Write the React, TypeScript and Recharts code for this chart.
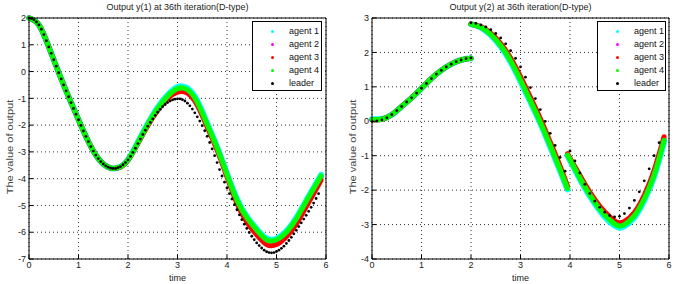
import React from 'react';
import { ComposedChart, Line, XAxis, YAxis, CartesianGrid } from 'recharts';

// two MATLAB-style subplots: y(1) and y(2) outputs, 4 agents vs leader

const FONT = '"Liberation Sans", Arial, Helvetica, sans-serif';

const X_TICKS = [0, 1, 2, 3, 4, 5, 6];
const Y1_TICKS = [-7, -6, -5, -4, -3, -2, -1, 0, 1, 2];
const Y2_TICKS = [-4, -3, -2, -1, 0, 1, 2, 3];

const TITLE_1 = 'Output y(1) at 36th iteration(D-type)';
const TITLE_2 = 'Output y(2) at 36th iteration(D-type)';
const X_LABEL = 'time';
const Y_LABEL = 'The value of output';

const LEGEND_NAMES = ['agent 1', 'agent 2', 'agent 3', 'agent 4', 'leader'];
const LEGEND_COLORS = ['#00ffff', '#ff00ff', '#ff0000', '#00ff00', '#000000'];

// ---- y(1) ----
const Y1_LEADER_T = [
  0, 0.05, 0.1, 0.15, 0.2, 0.25, 0.3, 0.35, 0.4, 0.45, 0.5, 0.55, 0.6, 0.65, 0.7, 0.75, 0.8, 0.85, 0.9, 0.95,
  1, 1.05, 1.1, 1.15, 1.2, 1.25, 1.3, 1.35, 1.4, 1.45, 1.5, 1.55, 1.6, 1.65, 1.7, 1.75, 1.8, 1.85, 1.9, 1.95,
  2, 2.05, 2.1, 2.15, 2.2, 2.25, 2.3, 2.35, 2.4, 2.45, 2.5, 2.55, 2.6, 2.65, 2.7, 2.75, 2.8, 2.85, 2.9, 2.95,
  3, 3.05, 3.1, 3.15, 3.2, 3.25, 3.3, 3.35, 3.4, 3.45, 3.5, 3.55, 3.6, 3.65, 3.7, 3.75, 3.8, 3.85, 3.9, 3.95,
  4, 4.05, 4.1, 4.15, 4.2, 4.25, 4.3, 4.35, 4.4, 4.45, 4.5, 4.55, 4.6, 4.65, 4.7, 4.75, 4.8, 4.85, 4.9, 4.95,
  5, 5.05, 5.1, 5.15, 5.2, 5.25, 5.3, 5.35, 5.4, 5.45, 5.5, 5.55, 5.6, 5.65, 5.7, 5.75, 5.8, 5.85,
];
const Y1_LEADER = [
  2.0, 1.98, 1.93, 1.85, 1.74, 1.58, 1.38, 1.15, 0.92, 0.68, 0.44, 0.2, -0.04, -0.27, -0.5, -0.72, -0.94, -1.16, -1.38, -1.59,
  -1.8, -2.01, -2.22, -2.42, -2.62, -2.8, -2.97, -3.12, -3.25, -3.36, -3.45, -3.52, -3.57, -3.61, -3.62, -3.62, -3.59, -3.55, -3.48, -3.4,
  -3.3, -3.17, -3.02, -2.86, -2.69, -2.52, -2.35, -2.19, -2.04, -1.9, -1.77, -1.64, -1.52, -1.41, -1.31, -1.23, -1.16, -1.1, -1.06, -1.03,
  -1.02, -1.02, -1.05, -1.1, -1.18, -1.28, -1.4, -1.54, -1.69, -1.85, -2.02, -2.21, -2.42, -2.65, -2.89, -3.14, -3.4, -3.66, -3.9, -4.13,
  -4.35, -4.56, -4.76, -4.97, -5.16, -5.35, -5.53, -5.7, -5.86, -6.01, -6.15, -6.28, -6.4, -6.5, -6.59, -6.67, -6.73, -6.76, -6.77, -6.76,
  -6.72, -6.67, -6.6, -6.52, -6.42, -6.31, -6.19, -6.06, -5.93, -5.79, -5.65, -5.51, -5.37, -5.22, -5.07, -4.91, -4.74, -4.56,
];
const Y1_AGENT_T = [
  0, 0.2, 0.4, 0.6, 0.8, 1, 1.2, 1.4, 1.6, 1.8, 2, 2.2, 2.4, 2.6, 2.8, 3, 3.2, 3.4, 3.6, 3.8,
  4, 4.2, 4.4, 4.6, 4.8, 5, 5.2, 5.4, 5.6, 5.8, 5.9,
];
const Y1_AGENT1 = [
  2.0, 1.74, 0.92, -0.04, -0.94, -1.8, -2.62, -3.25, -3.57, -3.59, -3.29, -2.64, -1.95, -1.34, -0.88, -0.58, -0.62, -1.1, -1.94, -2.82,
  -3.82, -4.76, -5.42, -5.88, -6.24, -6.24, -5.96, -5.46, -4.82, -4.18, -3.86,
];
const Y1_AGENT2 = [
  2.0, 1.74, 0.92, -0.04, -0.94, -1.8, -2.62, -3.25, -3.57, -3.59, -3.3, -2.67, -2.0, -1.41, -0.96, -0.69, -0.73, -1.19, -2.01, -2.88,
  -3.88, -4.84, -5.5, -5.98, -6.34, -6.34, -6.06, -5.56, -4.91, -4.28, -3.95,
];
const Y1_AGENT3 = [
  2.0, 1.74, 0.92, -0.04, -0.94, -1.8, -2.62, -3.25, -3.57, -3.6, -3.31, -2.68, -2.02, -1.45, -1.01, -0.77, -0.81, -1.26, -2.07, -2.93,
  -3.93, -4.92, -5.62, -6.1, -6.46, -6.46, -6.17, -5.7, -5.05, -4.4, -4.05,
];
const Y1_AGENT4 = [
  2.0, 1.74, 0.92, -0.04, -0.94, -1.8, -2.62, -3.25, -3.57, -3.59, -3.3, -2.66, -1.98, -1.38, -0.92, -0.64, -0.68, -1.15, -1.98, -2.85,
  -3.85, -4.8, -5.45, -5.92, -6.28, -6.28, -6.0, -5.5, -4.85, -4.22, -3.9,
];

// ---- y(2) ---- (jumps at t=2 and t=4; null breaks the agent lines)
const Y2_LEADER_T = [
  0, 0.1, 0.2, 0.3, 0.4, 0.5, 0.6, 0.7, 0.8, 0.9, 1, 1.1, 1.2, 1.3, 1.4, 1.5, 1.6, 1.7, 1.8, 1.9, 2,
  2, 2.1, 2.2, 2.3, 2.4, 2.5, 2.6, 2.7, 2.8, 2.9, 3, 3.1, 3.2, 3.3, 3.4, 3.5, 3.6, 3.7, 3.8, 3.9,
  4, 4.1, 4.2, 4.3, 4.4, 4.5, 4.6, 4.7, 4.8, 4.9, 5, 5.1, 5.2, 5.3, 5.4, 5.5, 5.6, 5.7, 5.8,
];
const Y2_LEADER = [
  0.0, 0.01, 0.04, 0.1, 0.19, 0.31, 0.43, 0.56, 0.68, 0.82, 0.96, 1.1, 1.24, 1.37, 1.48, 1.58, 1.66, 1.73, 1.78, 1.82, 1.84,
  2.86, 2.84, 2.8, 2.74, 2.66, 2.55, 2.42, 2.25, 2.05, 1.83, 1.58, 1.28, 0.98, 0.66, 0.34, 0.0, -0.35, -0.7, -1.05, -1.45,
  -0.86, -1.15, -1.5, -1.83, -2.1, -2.32, -2.5, -2.64, -2.74, -2.78, -2.76, -2.68, -2.52, -2.3, -2.05, -1.73, -1.38, -1.0, -0.62,
];
const Y2_AGENT_T = [
  0, 0.2, 0.4, 0.6, 0.8, 1, 1.2, 1.4, 1.6, 1.8, 2,
  2,
  2, 2.2, 2.4, 2.6, 2.8, 3, 3.2, 3.4, 3.6, 3.8, 3.95,
  3.95,
  3.95, 4.1, 4.3, 4.5, 4.7, 4.9, 5, 5.1, 5.3, 5.5, 5.7, 5.9,
];
const Y2_AGENT1 = [
  0.06, 0.07, 0.19, 0.43, 0.68, 0.96, 1.24, 1.48, 1.66, 1.78, 1.83,
  null,
  2.82, 2.72, 2.5, 2.17, 1.72, 1.16, 0.56, -0.06, -0.74, -1.44, -1.98,
  null,
  -1.0, -1.41, -1.94, -2.39, -2.77, -3.03, -3.09, -3.05, -2.79, -2.3, -1.6, -0.6,
];
const Y2_AGENT2 = [
  0.05, 0.06, 0.19, 0.43, 0.68, 0.96, 1.24, 1.48, 1.66, 1.78, 1.83,
  null,
  2.82, 2.73, 2.53, 2.21, 1.78, 1.22, 0.62, 0.0, -0.68, -1.38, -1.93,
  null,
  -0.97, -1.36, -1.88, -2.33, -2.7, -2.96, -3.02, -2.98, -2.72, -2.22, -1.52, -0.52,
];
const Y2_AGENT3 = [
  0.04, 0.06, 0.19, 0.43, 0.68, 0.96, 1.24, 1.48, 1.66, 1.78, 1.83,
  null,
  2.83, 2.75, 2.56, 2.26, 1.84, 1.3, 0.7, 0.08, -0.6, -1.3, -1.88,
  null,
  -0.94, -1.32, -1.82, -2.27, -2.63, -2.89, -2.95, -2.91, -2.65, -2.15, -1.42, -0.45,
];
const Y2_AGENT4 = [
  0.05, 0.06, 0.19, 0.43, 0.68, 0.96, 1.24, 1.48, 1.66, 1.78, 1.83,
  null,
  2.82, 2.73, 2.52, 2.2, 1.76, 1.2, 0.6, -0.02, -0.7, -1.4, -1.95,
  null,
  -0.98, -1.38, -1.9, -2.35, -2.72, -2.98, -3.04, -3.0, -2.74, -2.25, -1.55, -0.55,
];

const zip = (ts: number[], vs: (number | null)[]) => ts.map((t, i) => ({ t, v: vs[i] }));

const W = 340;
const H = 284;
const TOP = 17;
const BOTTOM = 5;
const X_AXIS_H = 20;

interface PanelProps {
  left: number;
  title: string;
  yDomain: [number, number];
  yTicks: number[];
  yAxisWidth: number;
  rightMargin: number;
  agentT: number[];
  agents: (number | null)[][];
  leaderT: number[];
  leader: number[];
  legendLeft: number;
  legendWidth: number;
  yLabelX: number;
}

function Legend({ left, width }: { left: number; width: number }) {
  return (
    <div
      style={{
        position: 'absolute', left, top: 21, width, height: 70, boxSizing: 'border-box',
        border: '1px solid #000', background: '#fff', fontFamily: FONT, fontSize: 9, color: '#111',
      }}
    >
      {LEGEND_NAMES.map((name, i) => (
        <div key={name} style={{ position: 'absolute', left: 0, top: 3 + i * 13, width: '100%', height: 13, lineHeight: '13px' }}>
          <span
            style={{
              position: 'absolute', left: 18, top: 5, width: 3, height: 3, borderRadius: 2,
              background: LEGEND_COLORS[i],
            }}
          />
          <span style={{ position: 'absolute', left: 36 }}>{name}</span>
        </div>
      ))}
    </div>
  );
}

function Panel(p: PanelProps) {
  const plotLeft = p.yAxisWidth;
  const plotRight = W - p.rightMargin - 1;
  const plotW = plotRight - plotLeft;
  const tickStyle = { fontSize: 9, fill: '#222', fontFamily: FONT };
  const agentColors = LEGEND_COLORS.slice(0, 4);
  const agentWidths = [6, 5, 5, 5];

  return (
    <div style={{ position: 'absolute', left: p.left, top: 0, width: W, height: H }}>
      <ComposedChart width={W} height={H} margin={{ top: TOP, right: p.rightMargin, bottom: BOTTOM, left: 0 }}>
        <CartesianGrid xAxisId="b" yAxisId="l" stroke="#000" strokeOpacity={0.8} strokeDasharray="1 3" />
        <XAxis
          xAxisId="b" type="number" dataKey="t" domain={[0, 6]} ticks={X_TICKS} height={X_AXIS_H}
          tickSize={-4} tickMargin={7} tick={tickStyle} stroke="#000"
        />
        <XAxis
          xAxisId="top" orientation="top" type="number" dataKey="t" domain={[0, 6]} ticks={X_TICKS}
          height={1} tickSize={-4} tick={false} stroke="#000"
        />
        <YAxis
          yAxisId="l" type="number" domain={p.yDomain} ticks={p.yTicks} width={p.yAxisWidth}
          tickSize={-4} tickMargin={7} tick={tickStyle} stroke="#000" interval={0}
        />
        <YAxis
          yAxisId="r" orientation="right" type="number" domain={p.yDomain} ticks={p.yTicks} width={1}
          tickSize={-4} tick={false} stroke="#000" interval={0}
        />
        {p.agents.map((vals, i) => (
          <Line
            key={i}
            xAxisId="b"
            yAxisId="l"
            data={zip(p.agentT, vals)}
            dataKey="v"
            type="natural"
            stroke={agentColors[i]}
            strokeWidth={agentWidths[i]}
            strokeLinecap="round"
            dot={false}
            activeDot={false}
            isAnimationActive={false}
          />
        ))}
        <Line
          xAxisId="b"
          yAxisId="l"
          data={zip(p.leaderT, p.leader)}
          dataKey="v"
          stroke="none"
          dot={{ r: 1.4, fill: '#000', stroke: 'none' }}
          activeDot={false}
          isAnimationActive={false}
        />
      </ComposedChart>

      <div
        style={{
          position: 'absolute', left: plotLeft, width: plotW, top: 1, textAlign: 'center',
          fontFamily: FONT, fontSize: 9, lineHeight: '12px', color: '#222', whiteSpace: 'nowrap',
        }}
      >
        {p.title}
      </div>
      <div
        style={{
          position: 'absolute', left: plotLeft, width: plotW, top: 272, textAlign: 'center',
          fontFamily: FONT, fontSize: 9, lineHeight: '12px', color: '#222',
        }}
      >
        {X_LABEL}
      </div>
      <div
        style={{
          position: 'absolute', left: p.yLabelX - 60, top: 141, width: 120, height: 12, textAlign: 'center',
          fontFamily: FONT, fontSize: 8.5, lineHeight: '12px', color: '#444', whiteSpace: 'nowrap',
          transform: 'rotate(-90deg) scaleX(1.3)',
        }}
      >
        {Y_LABEL}
      </div>
      <Legend left={p.legendLeft} width={p.legendWidth} />
    </div>
  );
}

export default function App() {
  return (
    <div style={{ position: 'absolute', left: 0, top: 0, width: 680, height: 284, background: '#fff', overflow: 'hidden' }}>
      <Panel
        left={0}
        title={TITLE_1}
        yDomain={[-7, 2]}
        yTicks={Y1_TICKS}
        yAxisWidth={29}
        rightMargin={13}
        agentT={Y1_AGENT_T}
        agents={[Y1_AGENT1, Y1_AGENT2, Y1_AGENT3, Y1_AGENT4]}
        leaderT={Y1_LEADER_T}
        leader={Y1_LEADER}
        legendLeft={252}
        legendWidth={70}
        yLabelX={10}
      />
      <Panel
        left={340}
        title={TITLE_2}
        yDomain={[-4, 3]}
        yTicks={Y2_TICKS}
        yAxisWidth={32}
        rightMargin={10}
        agentT={Y2_AGENT_T}
        agents={[Y2_AGENT1, Y2_AGENT2, Y2_AGENT3, Y2_AGENT4]}
        leaderT={Y2_LEADER_T}
        leader={Y2_LEADER}
        legendLeft={257}
        legendWidth={69}
        yLabelX={13}
      />
    </div>
  );
}
